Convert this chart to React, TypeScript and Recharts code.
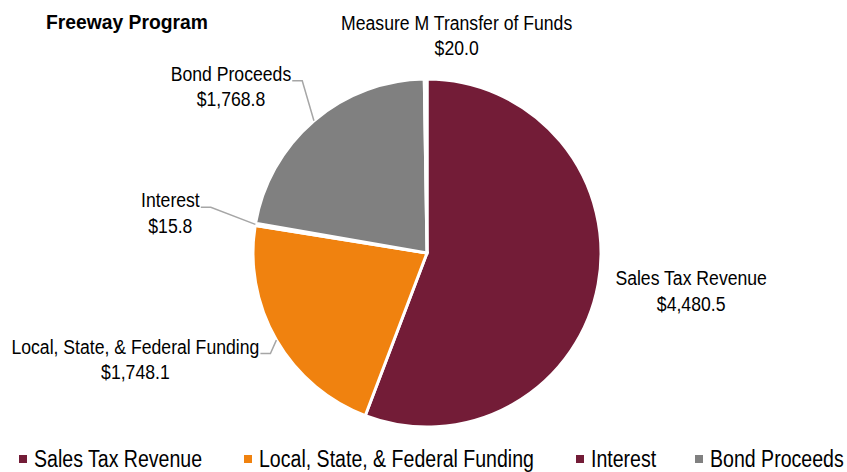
import React from "react";
import { Cell, Legend, Pie, PieChart } from "recharts";

const CATEGORIES = [
  "Sales Tax Revenue",
  "Local, State, & Federal Funding",
  "Interest",
  "Bond Proceeds",
  "Measure M Transfer of Funds",
];
const VALUES = [4480.5, 1748.1, 15.8, 1768.8, 20.0];
const VALUE_LABELS = ["$4,480.5", "$1,748.1", "$15.8", "$1,768.8", "$20.0"];
const COLORS = ["#731c37", "#f0820f", "#731c37", "#808080", "#ffffff"];
const LEGEND_ITEMS = [0, 1, 2, 3];

const FONT = "'Liberation Sans', Arial, sans-serif";
const LABEL_SIZE = 21;
const LABEL_SCALE = 0.84;
const LEGEND_SIZE = 23;
const LEGEND_SCALE = 0.85;

// label placement relative to the slice edge point (first baseline)
const LABEL_OFFSETS = [
  { dx: 93, dy: 1, line: false },
  { dx: -141, dy: 13.5, line: true },
  { dx: -85, dy: -17, line: true },
  { dx: -83, dy: -40, line: true },
  { dx: 31, dy: -49.5, line: false },
];

const data = CATEGORIES.map((name, i) => ({ name, value: VALUES[i] }));

let canvasCtx: CanvasRenderingContext2D | null = null;
function textWidth(t: string, size: number, weight = "normal") {
  if (!canvasCtx) canvasCtx = document.createElement("canvas").getContext("2d");
  if (!canvasCtx) return t.length * size * 0.5;
  canvasCtx.font = `${weight} ${size}px ${FONT}`;
  return canvasCtx.measureText(t).width;
}

const RAD = Math.PI / 180;

function renderLabel(props: any) {
  const { cx, cy, midAngle, outerRadius, index } = props;
  const ex = cx + outerRadius * Math.cos(-midAngle * RAD);
  const ey = cy + outerRadius * Math.sin(-midAngle * RAD);
  const off = LABEL_OFFSETS[index];
  const tx = ex + off.dx;
  const ty = ey + off.dy;
  const name = CATEGORIES[index];
  const half = (textWidth(name, LABEL_SIZE) * LABEL_SCALE) / 2;
  return (
    <g key={`lbl-${index}`}>
      {off.line && (
        <polyline
          points={`${tx + half + 1},${ty} ${tx + half + 11},${ty} ${ex},${ey}`}
          fill="none"
          stroke="#a6a6a6"
          strokeWidth={1.5}
        />
      )}
      <g transform={`translate(${tx},${ty}) scale(${LABEL_SCALE},1)`}>
        <text x={0} y={0} textAnchor="middle" fontFamily={FONT} fontSize={LABEL_SIZE} fill="#000">
          <tspan x={0}>{name}</tspan>
          <tspan x={0} dy={25.5}>
            {VALUE_LABELS[index]}
          </tspan>
        </text>
      </g>
    </g>
  );
}

function renderLegend() {
  return (
    <div style={{ display: "flex", fontFamily: FONT, fontSize: LEGEND_SIZE, color: "#000", lineHeight: "26px" }}>
      {LEGEND_ITEMS.map((i) => (
        <div key={i} style={{ display: "flex", alignItems: "center", marginRight: i === 2 ? 38 : 42 }}>
          <span style={{ width: 8, height: 8, background: COLORS[i], display: "inline-block", marginRight: 7 }} />
          <span
            style={{
              display: "inline-block",
              width: textWidth(CATEGORIES[i], LEGEND_SIZE) * LEGEND_SCALE,
              whiteSpace: "nowrap",
            }}
          >
            <span style={{ display: "inline-block", transform: `scaleX(${LEGEND_SCALE})`, transformOrigin: "left center" }}>
              {CATEGORIES[i]}
            </span>
          </span>
        </div>
      ))}
    </div>
  );
}

export default function App() {
  return (
    <div style={{ position: "absolute", left: 0, top: 0, width: 847, height: 472, background: "#fff" }}>
      <svg width={847} height={40} style={{ position: "absolute", left: 0, top: 0, zIndex: 1 }}>
        <g transform="translate(46,29) scale(0.92,1)">
          <text x={0} y={0} fontFamily={FONT} fontWeight="bold" fontSize={21} fill="#000">
            Freeway Program
          </text>
        </g>
      </svg>
      <PieChart width={847} height={472} margin={{ top: 0, right: 0, bottom: 0, left: 0 }}>
        <Pie
          data={data}
          dataKey="value"
          nameKey="name"
          cx={427}
          cy={253}
          outerRadius={174}
          startAngle={90}
          endAngle={-270}
          stroke="#fff"
          strokeWidth={3}
          label={renderLabel}
          labelLine={false}
          isAnimationActive={false}
        >
          {data.map((d, i) => (
            <Cell key={d.name} fill={COLORS[i]} />
          ))}
        </Pie>
        <Legend
          content={renderLegend}
          wrapperStyle={{ position: "absolute", left: 19, top: 446, bottom: "auto", width: "auto" }}
        />
      </PieChart>
    </div>
  );
}
